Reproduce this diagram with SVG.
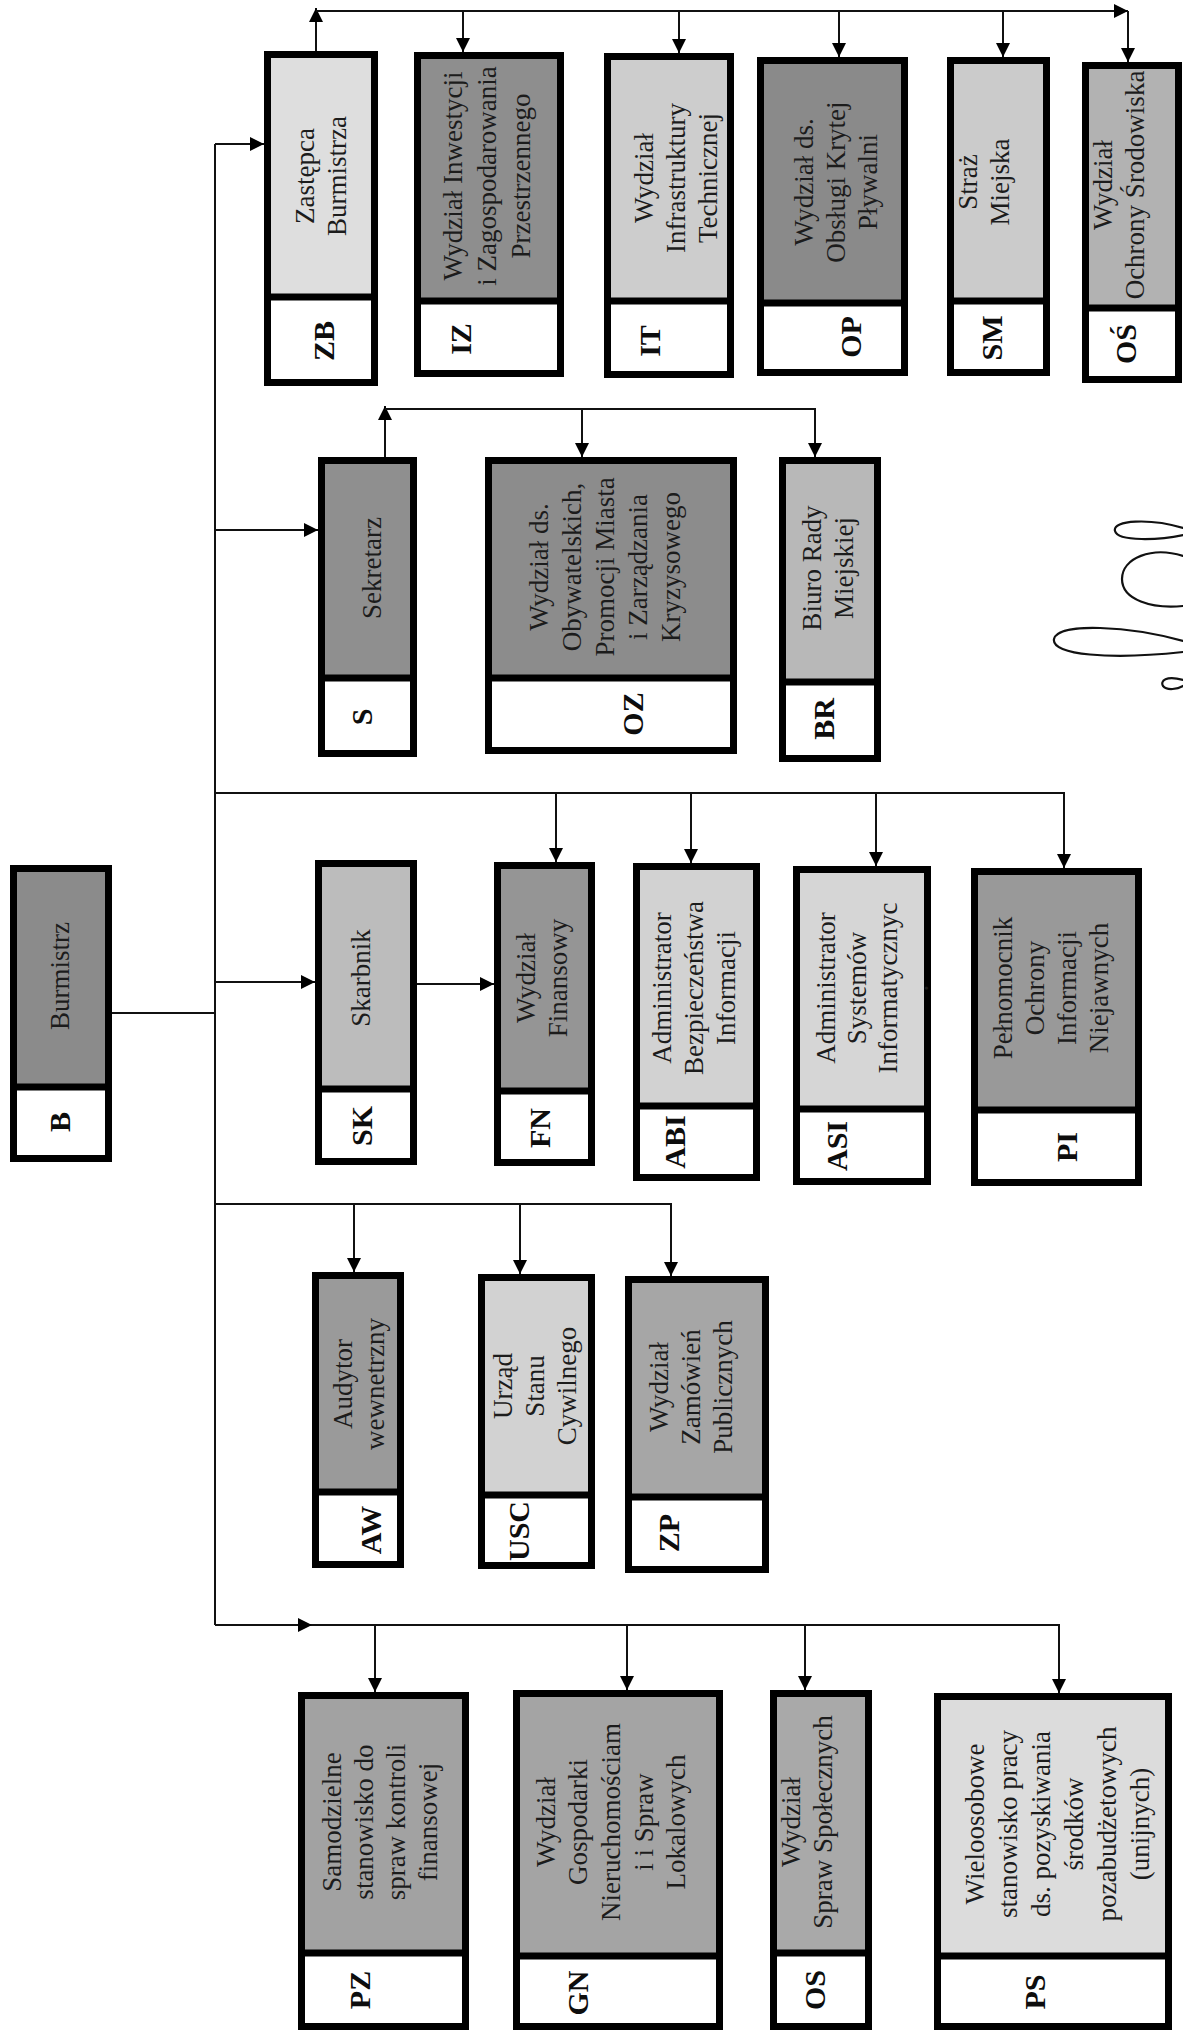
<svg xmlns="http://www.w3.org/2000/svg" width="1183" height="2032" viewBox="0 0 1183 2032">
<style>
.wh{fill:#ffffff}
.fr{fill:none;stroke:#000;stroke-width:7}
.dv{stroke:#000;stroke-width:7}
.nm{font-family:"Liberation Serif",serif;font-size:27px;fill:#1c1c1c;text-anchor:middle}
.cd{font-family:"Liberation Serif",serif;font-weight:bold;font-size:30px;fill:#0d0d0d;text-anchor:middle}
.cn{fill:none;stroke:#111;stroke-width:2}
.cna{fill:none;stroke:#111;stroke-width:2;marker-end:url(#ah)}
.sig{fill:none;stroke:#111;stroke-width:2.2;stroke-linecap:round}
</style>
<defs>
<marker id="ah" viewBox="0 0 10 10" refX="10" refY="5" markerWidth="14" markerHeight="14" markerUnits="userSpaceOnUse" orient="auto" preserveAspectRatio="none">
<path d="M0,0 L10,5 L0,10 z" fill="#000"/>
</marker>
</defs>
<rect width="1183" height="2032" fill="#fff"/>

<g id="connectors">
<path class="cn" d="M215,144 V1625"/>
<path class="cna" d="M215,144 H264"/>
<path class="cna" d="M215,530 H318"/>
<path class="cn" d="M112,1013 H215"/>
<path class="cna" d="M215,982 H315"/>
<path class="cna" d="M417,984 H494"/>
<path class="cna" d="M215,793 H1064 V868"/>
<path class="cna" d="M556,793 V862"/>
<path class="cna" d="M691,793 V863"/>
<path class="cna" d="M876,793 V866"/>
<path class="cna" d="M215,1204 H671 V1276"/>
<path class="cna" d="M354,1204 V1272"/>
<path class="cna" d="M520,1204 V1274"/>
<path class="cna" d="M215,1625 H312"/>
<path class="cna" d="M312,1625 H1059 V1693"/>
<path class="cna" d="M375,1625 V1692"/>
<path class="cna" d="M627,1625 V1690"/>
<path class="cna" d="M805,1625 V1690"/>
<path class="cna" d="M316,51 V8"/>
<path class="cna" d="M316,11 H1128"/>
<path class="cna" d="M1128,11 V62"/>
<path class="cna" d="M463,11 V52"/>
<path class="cna" d="M679,11 V53"/>
<path class="cna" d="M839,11 V57"/>
<path class="cna" d="M1003,11 V57"/>
<path class="cna" d="M385,457 V406"/>
<path class="cna" d="M385,409 H815 V457"/>
<path class="cna" d="M582,409 V457"/>
</g>

<g id="ZB">
<rect x="264" y="51" width="114" height="335" fill="#dedede"/>
<rect class="wh" x="264" y="297" width="114" height="89"/>
<rect class="fr" x="267.5" y="54.5" width="107" height="328"/>
<line class="dv" x1="264" y1="297" x2="378" y2="297"/>
<text class="nm" transform="translate(322 176) rotate(-90)"><tspan x="0" y="-8">Zastępca</tspan><tspan x="0" y="24">Burmistrza</tspan></text>
<text class="cd" transform="translate(324 341) rotate(-90)" y="10">ZB</text>
</g>

<g id="IZ">
<rect x="414" y="52" width="150" height="325" fill="#8e8e8e"/>
<rect class="wh" x="414" y="301" width="150" height="76"/>
<rect class="fr" x="417.5" y="55.5" width="143" height="318"/>
<line class="dv" x1="414" y1="301" x2="564" y2="301"/>
<text class="nm" transform="translate(488 176) rotate(-90)"><tspan x="0" y="-26">Wydział Inwestycji</tspan><tspan x="0" y="8">i Zagospodarowania</tspan><tspan x="0" y="42">Przestrzennego</tspan></text>
<text class="cd" transform="translate(461 339) rotate(-90)" y="10">IZ</text>
</g>

<g id="IT">
<rect x="604" y="53" width="130" height="325" fill="#cdcdcd"/>
<rect class="wh" x="604" y="301" width="130" height="77"/>
<rect class="fr" x="607.5" y="56.5" width="123" height="318"/>
<line class="dv" x1="604" y1="301" x2="734" y2="301"/>
<text class="nm" transform="translate(677 178) rotate(-90)"><tspan x="0" y="-24">Wydział</tspan><tspan x="0" y="8">Infrastruktury</tspan><tspan x="0" y="40">Technicznej</tspan></text>
<text class="cd" transform="translate(650 341) rotate(-90)" y="10">IT</text>
</g>

<g id="OP">
<rect x="757" y="57" width="151" height="319" fill="#8a8a8a"/>
<rect class="wh" x="757" y="303" width="151" height="73"/>
<rect class="fr" x="760.5" y="60.5" width="144" height="312"/>
<line class="dv" x1="757" y1="303" x2="908" y2="303"/>
<text class="nm" transform="translate(837 182) rotate(-90)"><tspan x="0" y="-24">Wydział ds.</tspan><tspan x="0" y="8">Obsługi Krytej</tspan><tspan x="0" y="40">Pływalni</tspan></text>
<text class="cd" transform="translate(851 337) rotate(-90)" y="10">OP</text>
</g>

<g id="SM">
<rect x="947" y="57" width="103" height="319" fill="#cbcbcb"/>
<rect class="wh" x="947" y="301" width="103" height="75"/>
<rect class="fr" x="950.5" y="60.5" width="96" height="312"/>
<line class="dv" x1="947" y1="301" x2="1050" y2="301"/>
<text class="nm" transform="translate(985 182) rotate(-90)"><tspan x="0" y="-8">Straż</tspan><tspan x="0" y="24">Miejska</tspan></text>
<text class="cd" transform="translate(992 338) rotate(-90)" y="10">SM</text>
</g>

<g id="OS_env">
<rect x="1082" y="62" width="100" height="321" fill="#b2b2b2"/>
<rect class="wh" x="1082" y="308" width="100" height="75"/>
<rect class="fr" x="1085.5" y="65.5" width="93" height="314"/>
<line class="dv" x1="1082" y1="308" x2="1182" y2="308"/>
<text class="nm" transform="translate(1120 185) rotate(-90)"><tspan x="0" y="-8">Wydział</tspan><tspan x="0" y="24">Ochrony Środowiska</tspan></text>
<text class="cd" transform="translate(1126 344) rotate(-90)" y="10">OŚ</text>
</g>

<g id="S">
<rect x="318" y="457" width="99" height="300" fill="#8f8f8f"/>
<rect class="wh" x="318" y="678" width="99" height="79"/>
<rect class="fr" x="321.5" y="460.5" width="92" height="293"/>
<line class="dv" x1="318" y1="678" x2="417" y2="678"/>
<text class="nm" transform="translate(373 568) rotate(-90)"><tspan x="0" y="8">Sekretarz</tspan></text>
<text class="cd" transform="translate(362 717) rotate(-90)" y="10">S</text>
</g>

<g id="OZ">
<rect x="485" y="457" width="252" height="297" fill="#8c8c8c"/>
<rect class="wh" x="485" y="678" width="252" height="76"/>
<rect class="fr" x="488.5" y="460.5" width="245" height="290"/>
<line class="dv" x1="485" y1="678" x2="737" y2="678"/>
<text class="nm" transform="translate(606 567) rotate(-90)"><tspan x="0" y="-58">Wydział ds.</tspan><tspan x="0" y="-25">Obywatelskich,</tspan><tspan x="0" y="8">Promocji Miasta</tspan><tspan x="0" y="41">i Zarządzania</tspan><tspan x="0" y="74">Kryzysowego</tspan></text>
<text class="cd" transform="translate(633 714) rotate(-90)" y="10">OZ</text>
</g>

<g id="BR">
<rect x="779" y="457" width="102" height="305" fill="#b8b8b8"/>
<rect class="wh" x="779" y="682" width="102" height="80"/>
<rect class="fr" x="782.5" y="460.5" width="95" height="298"/>
<line class="dv" x1="779" y1="682" x2="881" y2="682"/>
<text class="nm" transform="translate(829 568) rotate(-90)"><tspan x="0" y="-8">Biuro Rady</tspan><tspan x="0" y="24">Miejskiej</tspan></text>
<text class="cd" transform="translate(824 719) rotate(-90)" y="10">BR</text>
</g>

<g id="B">
<rect x="10" y="865" width="102" height="297" fill="#8b8b8b"/>
<rect class="wh" x="10" y="1087" width="102" height="75"/>
<rect class="fr" x="13.5" y="868.5" width="95" height="290"/>
<line class="dv" x1="10" y1="1087" x2="112" y2="1087"/>
<text class="nm" transform="translate(61 976) rotate(-90)"><tspan x="0" y="8">Burmistrz</tspan></text>
<text class="cd" transform="translate(60 1122) rotate(-90)" y="10">B</text>
</g>

<g id="SK">
<rect x="315" y="860" width="102" height="305" fill="#bcbcbc"/>
<rect class="wh" x="315" y="1089" width="102" height="76"/>
<rect class="fr" x="318.5" y="863.5" width="95" height="298"/>
<line class="dv" x1="315" y1="1089" x2="417" y2="1089"/>
<text class="nm" transform="translate(362 978) rotate(-90)"><tspan x="0" y="8">Skarbnik</tspan></text>
<text class="cd" transform="translate(362 1126) rotate(-90)" y="10">SK</text>
</g>

<g id="FN">
<rect x="494" y="862" width="101" height="304" fill="#959595"/>
<rect class="wh" x="494" y="1091" width="101" height="75"/>
<rect class="fr" x="497.5" y="865.5" width="94" height="297"/>
<line class="dv" x1="494" y1="1091" x2="595" y2="1091"/>
<text class="nm" transform="translate(543 978) rotate(-90)"><tspan x="0" y="-8">Wydział</tspan><tspan x="0" y="24">Finansowy</tspan></text>
<text class="cd" transform="translate(540 1128) rotate(-90)" y="10">FN</text>
</g>

<g id="ABI">
<rect x="633" y="863" width="127" height="318" fill="#d2d2d2"/>
<rect class="wh" x="633" y="1106" width="127" height="75"/>
<rect class="fr" x="636.5" y="866.5" width="120" height="311"/>
<line class="dv" x1="633" y1="1106" x2="760" y2="1106"/>
<text class="nm" transform="translate(695 988) rotate(-90)"><tspan x="0" y="-24">Administrator</tspan><tspan x="0" y="8">Bezpieczeństwa</tspan><tspan x="0" y="40">Informacji</tspan></text>
<text class="cd" transform="translate(675 1142) rotate(-90)" y="10">ABI</text>
</g>

<g id="ASI">
<rect x="793" y="866" width="138" height="319" fill="#d6d6d6"/>
<rect class="wh" x="793" y="1109" width="138" height="76"/>
<rect class="fr" x="796.5" y="869.5" width="131" height="312"/>
<line class="dv" x1="793" y1="1109" x2="931" y2="1109"/>
<text class="nm" transform="translate(874 988) rotate(-90)"><tspan x="0" y="-39">Administrator</tspan><tspan x="0" y="-8">Systemów</tspan><tspan x="0" y="23">Informatycznyc</tspan><tspan x="0" y="54">.</tspan></text>
<text class="cd" transform="translate(837 1146) rotate(-90)" y="10">ASI</text>
</g>

<g id="PI">
<rect x="971" y="868" width="171" height="318" fill="#999999"/>
<rect class="wh" x="971" y="1110" width="171" height="76"/>
<rect class="fr" x="974.5" y="871.5" width="164" height="311"/>
<line class="dv" x1="971" y1="1110" x2="1142" y2="1110"/>
<text class="nm" transform="translate(1052 988) rotate(-90)"><tspan x="0" y="-40">Pełnomocnik</tspan><tspan x="0" y="-8">Ochrony</tspan><tspan x="0" y="24">Informacji</tspan><tspan x="0" y="56">Niejawnych</tspan></text>
<text class="cd" transform="translate(1067 1147) rotate(-90)" y="10">PI</text>
</g>

<g id="AW">
<rect x="312" y="1272" width="92" height="296" fill="#9a9a9a"/>
<rect class="wh" x="312" y="1492" width="92" height="76"/>
<rect class="fr" x="315.5" y="1275.5" width="85" height="289"/>
<line class="dv" x1="312" y1="1492" x2="404" y2="1492"/>
<text class="nm" transform="translate(360 1384) rotate(-90)"><tspan x="0" y="-8">Audytor</tspan><tspan x="0" y="24">wewnetrzny</tspan></text>
<text class="cd" transform="translate(371 1530) rotate(-90)" y="10">AW</text>
</g>

<g id="USC">
<rect x="478" y="1274" width="117" height="295" fill="#d2d2d2"/>
<rect class="wh" x="478" y="1495" width="117" height="74"/>
<rect class="fr" x="481.5" y="1277.5" width="110" height="288"/>
<line class="dv" x1="478" y1="1495" x2="595" y2="1495"/>
<text class="nm" transform="translate(536 1386) rotate(-90)"><tspan x="0" y="-24">Urząd</tspan><tspan x="0" y="8">Stanu</tspan><tspan x="0" y="40">Cywilnego</tspan></text>
<text class="cd" transform="translate(519 1531) rotate(-90)" y="10">USC</text>
</g>

<g id="ZP">
<rect x="625" y="1276" width="144" height="297" fill="#a6a6a6"/>
<rect class="wh" x="625" y="1497" width="144" height="76"/>
<rect class="fr" x="628.5" y="1279.5" width="137" height="290"/>
<line class="dv" x1="625" y1="1497" x2="769" y2="1497"/>
<text class="nm" transform="translate(692 1387) rotate(-90)"><tspan x="0" y="-24">Wydział</tspan><tspan x="0" y="8">Zamówień</tspan><tspan x="0" y="40">Publicznych</tspan></text>
<text class="cd" transform="translate(669 1533) rotate(-90)" y="10">ZP</text>
</g>

<g id="PZ">
<rect x="298" y="1692" width="171" height="338" fill="#a2a2a2"/>
<rect class="wh" x="298" y="1953" width="171" height="77"/>
<rect class="fr" x="301.5" y="1695.5" width="164" height="331"/>
<line class="dv" x1="298" y1="1953" x2="469" y2="1953"/>
<text class="nm" transform="translate(381 1822) rotate(-90)"><tspan x="0" y="-40">Samodzielne</tspan><tspan x="0" y="-8">stanowisko do</tspan><tspan x="0" y="24">spraw kontroli</tspan><tspan x="0" y="56">finansowej</tspan></text>
<text class="cd" transform="translate(360 1990) rotate(-90)" y="10">PZ</text>
</g>

<g id="GN">
<rect x="513" y="1690" width="210" height="340" fill="#a4a4a4"/>
<rect class="wh" x="513" y="1956" width="210" height="74"/>
<rect class="fr" x="516.5" y="1693.5" width="203" height="333"/>
<line class="dv" x1="513" y1="1956" x2="723" y2="1956"/>
<text class="nm" transform="translate(612 1822) rotate(-90)"><tspan x="0" y="-57">Wydział</tspan><tspan x="0" y="-25">Gospodarki</tspan><tspan x="0" y="8">Nieruchomościam</tspan><tspan x="0" y="41">i i Spraw</tspan><tspan x="0" y="73">Lokalowych</tspan></text>
<text class="cd" transform="translate(578 1993) rotate(-90)" y="10">GN</text>
</g>

<g id="OS">
<rect x="770" y="1690" width="102" height="340" fill="#a9a9a9"/>
<rect class="wh" x="770" y="1953" width="102" height="77"/>
<rect class="fr" x="773.5" y="1693.5" width="95" height="333"/>
<line class="dv" x1="770" y1="1953" x2="872" y2="1953"/>
<text class="nm" transform="translate(808 1822) rotate(-90)"><tspan x="0" y="-8">Wydział</tspan><tspan x="0" y="24">Spraw Społecznych</tspan></text>
<text class="cd" transform="translate(815 1990) rotate(-90)" y="10">OS</text>
</g>

<g id="PS">
<rect x="934" y="1693" width="238" height="337" fill="#dcdcdc"/>
<rect class="wh" x="934" y="1956" width="238" height="74"/>
<rect class="fr" x="937.5" y="1696.5" width="231" height="330"/>
<line class="dv" x1="934" y1="1956" x2="1172" y2="1956"/>
<text class="nm" transform="translate(1058 1824) rotate(-90)"><tspan x="0" y="-74">Wieloosobowe</tspan><tspan x="0" y="-41">stanowisko pracy</tspan><tspan x="0" y="-8">ds. pozyskiwania</tspan><tspan x="0" y="25">środków</tspan><tspan x="0" y="58">pozabudżetowych</tspan><tspan x="0" y="91">(unijnych)</tspan></text>
<text class="cd" transform="translate(1035 1992) rotate(-90)" y="10">PS</text>
</g>

<g id="signature">
<path class="sig" d="M1183,528 C1150,518 1112,520 1115,531 C1118,542 1160,540 1183,535"/>
<path class="sig" d="M1183,556 C1152,546 1122,558 1122,579 C1122,600 1152,609 1183,606"/>
<path class="sig" d="M1183,641 C1130,626 1058,622 1054,639 C1051,655 1110,660 1183,652"/>
<path class="sig" d="M1183,680 C1166,675 1160,681 1163,686 C1167,691 1178,689 1183,686"/>
</g>
</svg>
